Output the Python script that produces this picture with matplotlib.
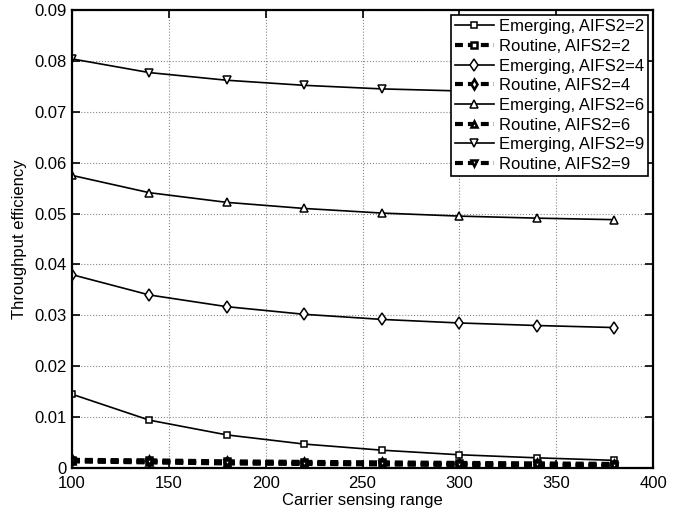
import matplotlib.pyplot as plt

plt.rcParams['font.family'] = ['Liberation Sans', 'DejaVu Sans']

x = [100, 140, 180, 220, 260, 300, 340, 380]

emerging = {
    2: [0.0145, 0.0094, 0.0065, 0.0047, 0.0035, 0.0026, 0.0020, 0.0015],
    4: [0.0380, 0.0340, 0.0317, 0.0302, 0.0292, 0.0285, 0.0280, 0.0276],
    6: [0.0575, 0.0541, 0.0522, 0.0510, 0.0501, 0.0495, 0.0491, 0.0488],
    9: [0.0804, 0.0777, 0.0762, 0.0752, 0.0745, 0.0741, 0.0738, 0.0736],
}
routine = {
    2: [0.0016, 0.0015, 0.0013, 0.0012, 0.0011, 0.0010, 0.0009, 0.0008],
    4: [0.0015, 0.0013, 0.0011, 0.0010, 0.0009, 0.0008, 0.0007, 0.0006],
    6: [0.0014, 0.0012, 0.0010, 0.0009, 0.0008, 0.0007, 0.0006, 0.0005],
    9: [0.0013, 0.0011, 0.0009, 0.0008, 0.0007, 0.0006, 0.0005, 0.0004],
}
markers = {2: 's', 4: 'd', 6: '^', 9: 'v'}

fig = plt.figure(figsize=(6.94, 5.14), dpi=100)
ax = fig.add_axes([0.1037, 0.0895, 0.8373, 0.891])

for a in [2, 4, 6, 9]:
    ms = 6 if markers[a] in ('d', '^', 'v') else 5
    ax.plot(x, emerging[a], '-', color='black', linewidth=1.2, marker=markers[a],
            markersize=ms, markerfacecolor='white', markeredgewidth=1.1,
            label='Emerging, AIFS2=%d' % a)
    ax.plot(x, routine[a], '--', color='black', linewidth=3, dashes=(1.9, 1.2),
            marker=markers[a], markersize=ms - 1, markerfacecolor='white',
            markeredgewidth=1.8, label='Routine, AIFS2=%d' % a)

ax.set_xlim(100, 400)
ax.set_ylim(0, 0.09)
ax.set_xticks([100, 150, 200, 250, 300, 350, 400])
ax.set_yticks([0, 0.01, 0.02, 0.03, 0.04, 0.05, 0.06, 0.07, 0.08, 0.09])
ax.set_yticklabels(['0', '0.01', '0.02', '0.03', '0.04', '0.05', '0.06', '0.07', '0.08', '0.09'])
ax.grid(True, linestyle=':', color='#888888', linewidth=0.8)
ax.tick_params(direction='in', length=6, width=1.2, top=True, right=True, labelsize=12)
ax.tick_params(axis='x', pad=6)
ax.tick_params(axis='y', pad=4)
for s in ax.spines.values():
    s.set_linewidth(1.6)

ax.set_xlabel('Carrier sensing range', fontsize=12, labelpad=1)
ax.set_ylabel('Throughput efficiency', fontsize=12, labelpad=5)

leg = ax.legend(loc='upper right', fontsize=12, fancybox=False, framealpha=1,
                edgecolor='black', borderpad=0.25, labelspacing=0.28,
                handlelength=2.3, handletextpad=0.3, borderaxespad=0.3)
leg.get_frame().set_linewidth(1.2)

plt.savefig('out.png', dpi=100)
